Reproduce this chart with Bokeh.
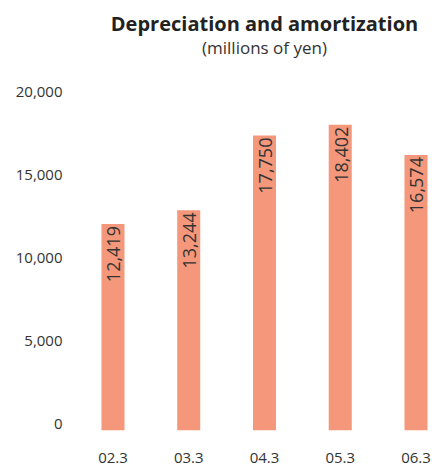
import math
from bokeh.plotting import figure
from bokeh.models import ColumnDataSource, Label, Range1d
from bokeh.core.properties import value
from bokeh.embed import file_html
from bokeh.resources import INLINE

# Fiscal years (March year-end) and depreciation & amortization, millions of yen
periods = ["02.3", "03.3", "04.3", "05.3", "06.3"]
amounts = [12419, 13244, 17750, 18402, 16574]
y_ticks = [0, 5000, 10000, 15000, 20000]

FONT = "Open Sans"
BAR_COLOR = "#F4977A"
TEXT_COLOR = "#333333"

xs = list(range(1, len(periods) + 1))
bars = ColumnDataSource(dict(
    x=xs,
    amount=amounts,
    label=[f"{a:,}" for a in amounts],
    period=periods,
))
ticks = ColumnDataSource(dict(
    y=y_ticks,
    label=[f"{t:,}" for t in y_ticks],
))

# The plot frame covers the whole canvas; tick labels are drawn as text
# glyphs so that they sit just above the level of their value.
p = figure(
    width=432, height=466,
    output_backend="svg", toolbar_location=None,
    x_range=Range1d(-0.485, 5.218),
    y_range=Range1d(-2187, 25886),
    min_border=0,
)
p.title.visible = False
p.outline_line_color = None
p.grid.grid_line_color = None
p.xaxis.visible = False
p.yaxis.visible = False
p.background_fill_color = "white"
p.border_fill_color = "white"

p.vbar(x="x", top="amount", bottom=0, width=0.304, source=bars,
       fill_color=BAR_COLOR, line_color=None)

# value labels, rotated inside the top of each bar
p.text(x="x", y="amount", text="label", source=bars,
       angle=math.pi / 2, text_align="right", text_baseline="middle",
       x_offset=1, y_offset=2, text_color=TEXT_COLOR, text_font=value(FONT),
       text_font_size="18px")

# category labels under the bars
p.text(x="x", y=-1681, text="period", source=bars,
       text_align="center", text_baseline="middle",
       text_color=TEXT_COLOR, text_font=value(FONT), text_font_size="15px")

# value axis labels
p.text(x=0.3335, y="y", text="label", source=ticks,
       text_align="right", text_baseline="middle", y_offset=-6,
       text_color=TEXT_COLOR, text_font=value(FONT), text_font_size="15px")

# chart heading
p.add_layout(Label(x=3, y=24512, text="Depreciation and amortization",
                   text_align="center", text_baseline="middle",
                   text_font=FONT, text_font_style="bold",
                   text_font_size="20px", text_color="#222222"))
p.add_layout(Label(x=3, y=23084, text="(millions of yen)",
                   text_align="center", text_baseline="middle",
                   text_font=FONT, text_font_size="17px",
                   text_color=TEXT_COLOR))

open("out.html", "w").write(file_html(p, INLINE))
